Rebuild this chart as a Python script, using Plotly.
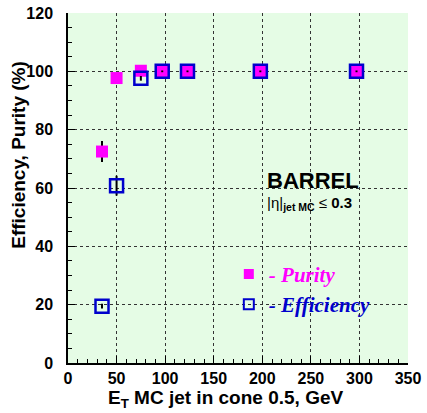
import plotly.graph_objects as go

# Data
et = [35, 50, 75, 97, 123, 198, 297]
purity = [72.5, 97.7, 100.2, 100.0, 100.0, 100.0, 100.0]
purity_err = [3.6, 0.8, 0.5, 0.3, 0.3, 0.3, 0.3]
efficiency = [19.5, 60.8, 97.6, 100.0, 100.0, 100.0, 100.0]
efficiency_err = [0.8, 3.4, 0.8, 0.3, 0.3, 0.3, 0.3]

x_ticks = [0, 50, 100, 150, 200, 250, 300, 350]
y_ticks = [0, 20, 40, 60, 80, 100, 120]

MAGENTA = "#ff00ff"
BLUE = "#0000cc"
BG = "#e5fce5"
SANS = "Liberation Sans"
SERIF = "Liberation Serif"

fig = go.Figure()

fig.add_trace(go.Scatter(
    x=et, y=purity, mode="markers", showlegend=False,
    marker=dict(symbol="square", size=12, color=MAGENTA, line=dict(width=0)),
    error_y=dict(type="data", array=purity_err, color="black", thickness=2, width=0),
))
fig.add_trace(go.Scatter(
    x=et, y=efficiency, mode="markers", showlegend=False,
    marker=dict(symbol="square-open", size=13, color=BLUE, line=dict(width=2.5, color=BLUE)),
    error_y=dict(type="data", array=efficiency_err, color="black", thickness=2, width=0),
))
# legend keys
fig.add_trace(go.Scatter(
    x=[None], y=[None], mode="markers",
    name="<b><i><span style='color:#ff00ff'>- Purity</span></i></b>",
    marker=dict(symbol="square", size=10, color=MAGENTA),
))
fig.add_trace(go.Scatter(
    x=[None], y=[None], mode="markers",
    name="<b><i><span style='color:#0000cc'>- Efficiency</span></i></b>",
    marker=dict(symbol="square-open", size=10, color=BLUE, line=dict(width=2, color=BLUE)),
))

axis_common = dict(
    showline=True, linecolor="black", linewidth=1.5,
    ticks="inside", ticklen=7, tickcolor="black", tickwidth=1,
    showgrid=True, gridcolor="#333333", griddash="dot", gridwidth=1,
    zeroline=False, automargin=False,
    tickfont=dict(family=SANS, size=16, color="black"),
)

fig.update_xaxes(
    range=[0, 350], tickvals=x_ticks, ticktext=[f"<b>{v}</b>" for v in x_ticks],
    minor=dict(dtick=10, ticks="inside", ticklen=4, tickcolor="black", showgrid=False),
    **axis_common,
)
fig.update_yaxes(
    range=[0, 120], tickvals=y_ticks, ticktext=[f"<b>{v}</b>" for v in y_ticks],
    minor=dict(dtick=5, ticks="inside", ticklen=4, tickcolor="black", showgrid=False),
    ticklabelstandoff=10,
    **axis_common,
)

fig.update_layout(
    width=427, height=413,
    margin=dict(l=68, r=19, t=13, b=50, autoexpand=False),
    paper_bgcolor="white", plot_bgcolor=BG,
    legend=dict(
        x=0.473, y=0.312, xanchor="left", yanchor="top",
        bgcolor="rgba(0,0,0,0)",
        font=dict(family=SERIF, size=21),
        itemwidth=30,
    ),
    annotations=[
        dict(text="<b>E<sub>T</sub> MC jet in cone 0.5, GeV</b>", xref="paper", yref="paper",
             x=0.464, y=-0.102, xanchor="center", yanchor="middle", showarrow=False,
             font=dict(family=SANS, size=19, color="black")),
        dict(text="<b>Efficiency, Purity (%)</b>", xref="paper", yref="paper",
             x=0, xshift=-49, y=0.595, xanchor="center", yanchor="middle", textangle=-90,
             showarrow=False, font=dict(family=SANS, size=19, color="black")),
        dict(text="<b>BARREL</b>", xref="paper", yref="paper", x=0.578, y=0.521,
             xanchor="left", yanchor="middle", showarrow=False,
             font=dict(family=SANS, size=22, color="black")),
        dict(text="|η|<b><sub>jet MC</sub></b> ≤ <b>0.3</b>", xref="paper", yref="paper", x=0.578, y=0.455,
             xanchor="left", yanchor="middle", showarrow=False,
             font=dict(family=SANS, size=15, color="black")),
    ],
)

fig.write_html("out.html")
